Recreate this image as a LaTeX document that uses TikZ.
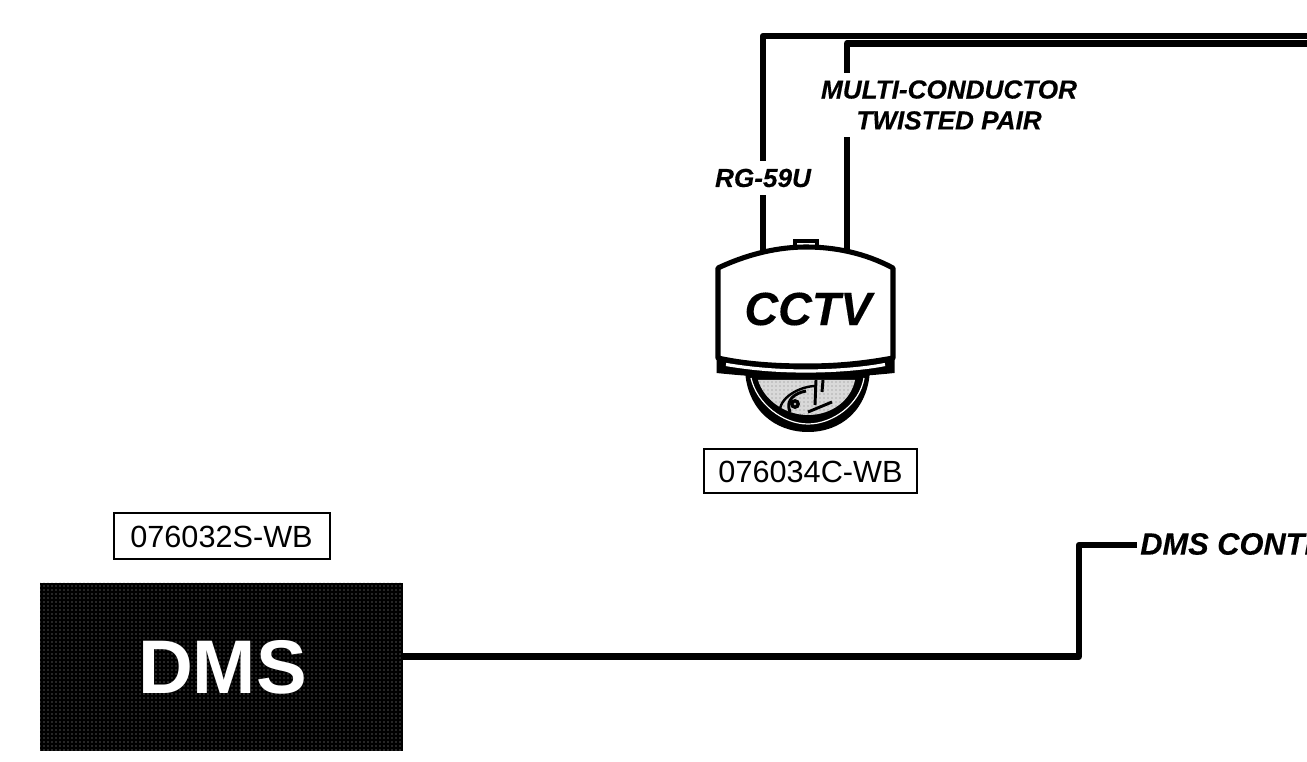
\documentclass[tikz,border=0pt]{standalone}
\usepackage{fontspec}
\setmainfont{Liberation Sans}
\usetikzlibrary{patterns}
\tikzset{
  cable/.style={line width=4.9pt,line join=round,draw=black},
  cablelabel/.style={font=\fontsize{19.6}{23.2}\selectfont\bfseries\itshape\addfontfeature{FakeBold=0.25},fill=white,inner sep=0pt,align=center,text=black},
  idbox/.style={draw=black,line width=1.5pt,fill=white,inner sep=0pt,font=\fontsize{23}{27}\selectfont},
  housing/.style={draw=black,line width=3.8pt,line join=round,fill=white}
}
\begin{document}
\begin{tikzpicture}[x=0.75pt,y=-0.75pt]
\useasboundingbox[fill=white] (0,0) rectangle (1307,762);
\clip (0,0) rectangle (1307,762);
% connector corners and free ends
\coordinate (camA) at (763,250);
\coordinate (camB) at (847,250);
\coordinate (cornerA) at (763,36);
\coordinate (cornerB) at (847,43.5);
\coordinate (endA) at (1307,36);
\coordinate (endB) at (1307,43.5);
\coordinate (elbow1) at (1079,656.5);
\coordinate (elbow2) at (1079,545);
\coordinate (ctlend) at (1137,545);
% DMS
\node[minimum width=272.25pt,minimum height=126pt,inner sep=0pt,fill=black,anchor=north west] (dms) at (40,583) {};
\fill[pattern=dots,pattern color=white!65!black] (40,583) rectangle (403,751);
\node[text=white,font=\fontsize{57}{60}\selectfont\bfseries,inner sep=0pt] (dmstext) at (222.5,667) {DMS};
\node[idbox,minimum width=162pt,minimum height=34.5pt] (idS) at (221.5,536.5) {076032S-WB};
\node[idbox,minimum width=160pt,minimum height=33pt] (idC) at (810.5,471.5) {076034C-WB};
% cables
\draw[cable] (camA) -- (cornerA) -- (endA);
\draw[cable] (camB) -- (cornerB) -- (endB);
\node[cablelabel,minimum height=25.5pt] (rg) at (763,178) {RG-59U};
\node[cablelabel,minimum height=48pt] (mc) at (949,105) {MULTI-CONDUCTOR\\TWISTED PAIR};
\node[font=\fontsize{23.1}{26}\selectfont\bfseries\itshape\addfontfeature{FakeBold=0.25},anchor=west,inner sep=0pt] (dmsctl) at (1140,544) {DMS CONTR};
\draw[cable,shorten <=-1.5pt] (dms.east |- elbow1) -- (elbow1) -- (elbow2) -- (ctlend);
% dome
\fill[black] (745,370) .. controls (747,410) and (775,432) .. (808,432) .. controls (841,432) and (868,410) .. (870,370) -- cycle;
\draw[white,line width=0.9pt] (751,378) .. controls (757,404) and (783,424) .. (808,424) .. controls (833,424) and (860,404) .. (864,378);
\fill[gray!30] (758,380) .. controls (764,400) and (785,415) .. (808,415) .. controls (832,415) and (851,400) .. (855,380) -- cycle;
\fill[pattern=dots,pattern color=gray] (758,380) .. controls (764,400) and (785,415) .. (808,415) .. controls (832,415) and (851,400) .. (855,380) -- cycle;
\draw[black,line width=1.8pt] (780,413) .. controls (778,398) and (800,386) .. (816,386);
\draw[black,line width=2.2pt] (790,412) .. controls (785,400) and (795,393) .. (806,391);
\fill[black] (795,404) circle (5);
\fill[gray!50] (795,404) circle (1.3);
\draw[black,line width=2.2pt] (816,380) -- (815,405) (823,380) -- (822,392) (808,412) -- (832,402);
% housing
\draw[draw=black,fill=white,line width=2.6pt] (795,250) -- (795,241) -- (817,241) -- (817,250);
\fill[black] (716.5,357) -- (716.5,373) .. controls (745,376) and (775,378) .. (806,378) .. controls (835,378) and (865,376) .. (894.5,373) -- (894.5,357) -- (806,365) -- cycle;
\draw[housing] (718,268) .. controls (750,253) and (780,247) .. (806,247) .. controls (835,247) and (865,253) .. (893,268) -- (893,358) .. controls (860,364) and (835,366) .. (806,366) .. controls (775,366) and (745,364) .. (718,358) -- cycle;
\draw[white,line width=2.4pt] (726,364.5) .. controls (750,368.5) and (775,371) .. (806,371) .. controls (835,371) and (865,368.5) .. (885,364.5);
\node[font=\fontsize{35}{38}\selectfont\bfseries\itshape\addfontfeature{FakeBold=0.25},inner sep=0pt] (cctv) at (808,309) {CCTV};
\end{tikzpicture}
\end{document}
